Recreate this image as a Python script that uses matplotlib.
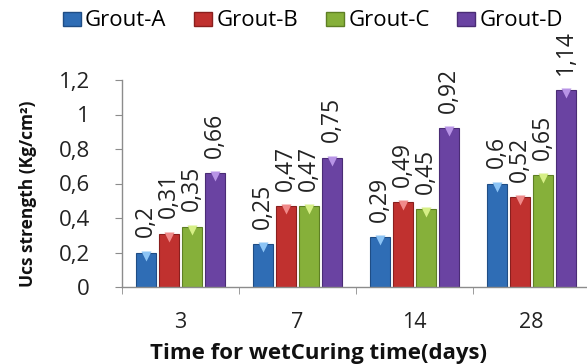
import matplotlib
matplotlib.use("Agg")
import matplotlib.pyplot as plt
from matplotlib.patches import Patch
from matplotlib.transforms import offset_copy
import numpy as np

plt.rcParams['font.family'] = ['Open Sans', 'DejaVu Sans']

# Curing times (days) and strengths per grout mix
categories = ["3", "7", "14", "28"]
series_names = ["Grout-A", "Grout-B", "Grout-C", "Grout-D"]
grout_a = [0.2, 0.25, 0.29, 0.6]
grout_b = [0.31, 0.47, 0.49, 0.52]
grout_c = [0.35, 0.47, 0.45, 0.65]
grout_d = [0.66, 0.75, 0.92, 1.14]
y_ticks = [0, 0.2, 0.4, 0.6, 0.8, 1.0, 1.2]

series = [grout_a, grout_b, grout_c, grout_d]
face = ["#2f6db5", "#c0312f", "#86b03a", "#6a43a2"]
edge = ["#1f4d85", "#8a1f1e", "#5e7f24", "#4a2c75"]
glow = ["#8cc4f5", "#f08a8a", "#d6ef86", "#b894e6"]


def comma(v):
    s = f"{v:g}"
    return s.replace(".", ",")


W, H = 587, 364
fig = plt.figure(figsize=(W / 100, H / 100), dpi=100)
ax = fig.add_axes([122 / W, 77 / H, 468 / W, 207 / H])

x = np.arange(len(categories))
step = 0.197
width = 0.172
offsets = (np.arange(len(series)) - 1.5) * step

# bevel chevron sits just inside the top edge of each bar
bevel_tr = offset_copy(ax.transData, fig=fig, x=0, y=-3, units="dots")

for i, vals in enumerate(series):
    xs = x + offsets[i]
    ax.bar(xs, vals, width=width, color=face[i], edgecolor=edge[i],
           linewidth=0.8, zorder=2)
    ax.plot(xs, vals, linestyle="none", marker="v", markersize=7,
            markerfacecolor=glow[i], markeredgecolor="none", zorder=3,
            transform=bevel_tr)
    for xi, v in zip(xs, vals):
        ax.annotate(comma(v), (xi, v), xytext=(0, 11), textcoords="offset points",
                    rotation=90, ha="center", va="bottom", fontsize=16.5,
                    color="#222222", zorder=4)

ax.set_xlim(-0.5, 3.5)
ax.set_ylim(0, 1.2)
ax.set_yticks(y_ticks)
ax.set_yticklabels([comma(t) for t in y_ticks])
ax.set_xticks(x)
ax.set_xticklabels(categories)
ax.set_xticks(np.arange(-0.5, 4.0, 1.0), minor=True)

for s in ["top", "right"]:
    ax.spines[s].set_visible(False)
for s in ["left", "bottom"]:
    ax.spines[s].set_color("#8c8c8c")
    ax.spines[s].set_linewidth(1.0)

ax.tick_params(axis="y", direction="out", length=5, color="#8c8c8c",
               labelsize=16, labelcolor="#222222", pad=18)
ax.tick_params(axis="x", which="major", length=0, labelsize=15.5,
               labelcolor="#222222", pad=18)
ax.tick_params(axis="x", which="minor", direction="out", length=5,
               color="#8c8c8c")

fig.text(319 / W, 1 - 359 / H, "Time for wetCuring time(days)", ha="center",
         va="baseline", fontsize=16, fontweight="bold", color="#111111")
fig.text(28 / W, 1 - 194 / H, "Ucs strength (Kg/cm²)", ha="center", va="center",
         rotation=90, fontsize=12.5, fontweight="bold", color="#111111")

handles = [Patch(facecolor=face[i], edgecolor=edge[i], label=series_names[i])
           for i in range(len(series))]
fig.legend(handles=handles, loc="center", bbox_to_anchor=(313 / W, 1 - 21 / H),
           ncol=4, frameon=False, fontsize=16, handlelength=0.8,
           handleheight=0.6, handletextpad=0.2, columnspacing=1.25,
           borderaxespad=0, borderpad=0)

fig.savefig("out.png", dpi=100)
